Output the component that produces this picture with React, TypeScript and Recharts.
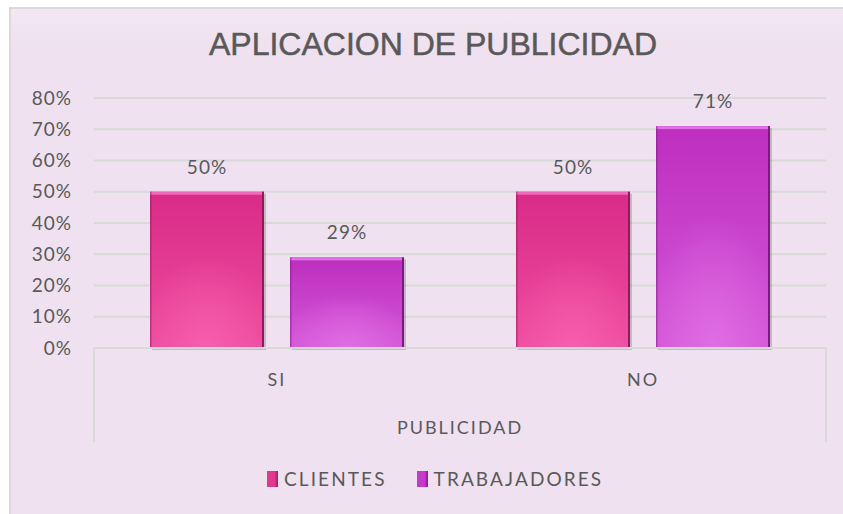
import React from 'react';
import { BarChart, Bar, XAxis, YAxis, CartesianGrid, LabelList } from 'recharts';

const categories = ['SI', 'NO'];
const clientes = [50, 50];
const trabajadores = [29, 71];
const yTicks = [0, 10, 20, 30, 40, 50, 60, 70, 80];
const seriesNames = ['CLIENTES', 'TRABAJADORES'];

const data = categories.map((c, i) => ({
  name: c,
  clientes: clientes[i],
  trabajadores: trabajadores[i],
}));

const FONT = '"Lato", "Open Sans", sans-serif';
const TEXT = '#595959';

const GlossyBar = (props: any) => {
  const { x, y, width, height, gradId, glowId, edge, top } = props;
  if (!height || height <= 0) return null;
  return (
    <g>
      <rect x={x + 2} y={y + 2} width={width} height={height} fill="rgba(0,0,0,0.18)" />
      <rect x={x} y={y} width={width} height={height} fill={`url(#${gradId})`} />
      <rect x={x} y={y} width={width} height={height} fill={`url(#${glowId})`} />
      <rect x={x} y={y} width={width} height={3} fill={top} />
      <rect x={x + width - 2} y={y} width={2} height={height} fill={edge} />
      <rect x={x} y={y} width={1.5} height={height} fill={edge} opacity={0.5} />
    </g>
  );
};

const LegendBox = ({ color, edge, label }: { color: string; edge: string; label: string }) => (
  <div style={{ display: 'flex', alignItems: 'center', marginRight: 30 }}>
    <div
      style={{
        width: 11,
        height: 16,
        background: `linear-gradient(to right, ${color} 70%, ${edge})`,
        marginRight: 6,
      }}
    />
    <span style={{ fontFamily: FONT, fontSize: 19, color: TEXT, letterSpacing: 2.1 }}>{label}</span>
  </div>
);

export default function App() {
  return (
    <div style={{ position: 'fixed', left: 0, top: 0, width: 843, height: 514, background: '#ffffff', overflow: 'hidden' }}>
      <div
        style={{
          position: 'absolute',
          left: 9,
          top: 7,
          width: 850,
          height: 520,
          background: 'linear-gradient(to bottom, #f3e7f3 0px, #efe1ef 40px)',
          borderTop: '2px solid #d9d9d9',
          borderLeft: '2px solid #d9d9d9',
        }}
      />
      <div
        style={{
          position: 'absolute',
          left: 0,
          width: 866,
          top: 26,
          textAlign: 'center',
          fontFamily: '"Liberation Sans", Arial, sans-serif',
          fontSize: 32,
          color: TEXT,
          WebkitTextStroke: '0.5px #595959',
        }}
      >
        APLICACION DE PUBLICIDAD
      </div>
      <div style={{ position: 'absolute', left: 93, top: 348, width: 2, height: 94, background: '#d9d9d9' }} />
      <div style={{ position: 'absolute', left: 825, top: 348, width: 2, height: 94, background: '#d9d9d9' }} />
      <div style={{ position: 'absolute', left: 0, top: 0 }}>
        <BarChart
          width={843}
          height={514}
          data={data}
          margin={{ top: 98, right: 17, bottom: 74, left: 0 }}
          barCategoryGap={56}
          barGap={26}
        >
          <defs>
            <linearGradient id="gPink" x1="0" y1="0" x2="0" y2="1">
              <stop offset="0%" stopColor="#d92b88" />
              <stop offset="100%" stopColor="#ee4c9e" />
            </linearGradient>
            <radialGradient id="glowPink" cx="0.5" cy="1" r="0.6">
              <stop offset="0%" stopColor="#f760ae" stopOpacity={0.9} />
              <stop offset="100%" stopColor="#f760ae" stopOpacity={0} />
            </radialGradient>
            <linearGradient id="gPurple" x1="0" y1="0" x2="0" y2="1">
              <stop offset="0%" stopColor="#bd2ebf" />
              <stop offset="100%" stopColor="#d457d8" />
            </linearGradient>
            <radialGradient id="glowPurple" cx="0.5" cy="1" r="0.6">
              <stop offset="0%" stopColor="#e070e4" stopOpacity={0.9} />
              <stop offset="100%" stopColor="#e070e4" stopOpacity={0} />
            </radialGradient>
          </defs>
          <CartesianGrid vertical={false} stroke="#d9d9d9" strokeWidth={2} />
          <XAxis
            dataKey="name"
            axisLine={{ stroke: '#d9d9d9', strokeWidth: 2 }}
            tickLine={false}
            tickSize={0}
            tickMargin={25}
            height={92}
            tick={{ fill: TEXT, fontSize: 18, fontFamily: FONT, letterSpacing: 2 }}
            label={{ value: 'PUBLICIDAD', position: 'insideBottom', offset: 6, fill: TEXT, fontSize: 18, fontFamily: FONT, letterSpacing: 2 }}
          />
          <YAxis
            domain={[0, 80]}
            ticks={yTicks}
            width={94}
            axisLine={false}
            tickLine={false}
            tickSize={0}
            tickMargin={22}
            tickFormatter={(v: number) => `${v}%`}
            tick={{ fill: TEXT, fontSize: 19, fontFamily: FONT, letterSpacing: 1 }}
          />
          <Bar
            dataKey="clientes"
            name={seriesNames[0]}
            isAnimationActive={false}
            shape={(p: any) => <GlossyBar {...p} gradId="gPink" glowId="glowPink" edge="#8e1a5a" top="#f06ab8" />}
          >
            <LabelList dataKey="clientes" position="top" offset={18} formatter={(v: any) => `${v}%`} fill={TEXT} fontSize={19} fontFamily={FONT} letterSpacing={1} />
          </Bar>
          <Bar
            dataKey="trabajadores"
            name={seriesNames[1]}
            isAnimationActive={false}
            shape={(p: any) => <GlossyBar {...p} gradId="gPurple" glowId="glowPurple" edge="#7a1a80" top="#e070e6" />}
          >
            <LabelList dataKey="trabajadores" position="top" offset={18} formatter={(v: any) => `${v}%`} fill={TEXT} fontSize={19} fontFamily={FONT} letterSpacing={1} />
          </Bar>
        </BarChart>
      </div>
      <div
        style={{
          position: 'absolute',
          top: 467,
          left: 267,
          display: 'flex',
          alignItems: 'center',
        }}
      >
        <LegendBox color="#e0388f" edge="#9a1d60" label={seriesNames[0]} />
        <LegendBox color="#c53ac8" edge="#7e1c86" label={seriesNames[1]} />
      </div>
    </div>
  );
}
